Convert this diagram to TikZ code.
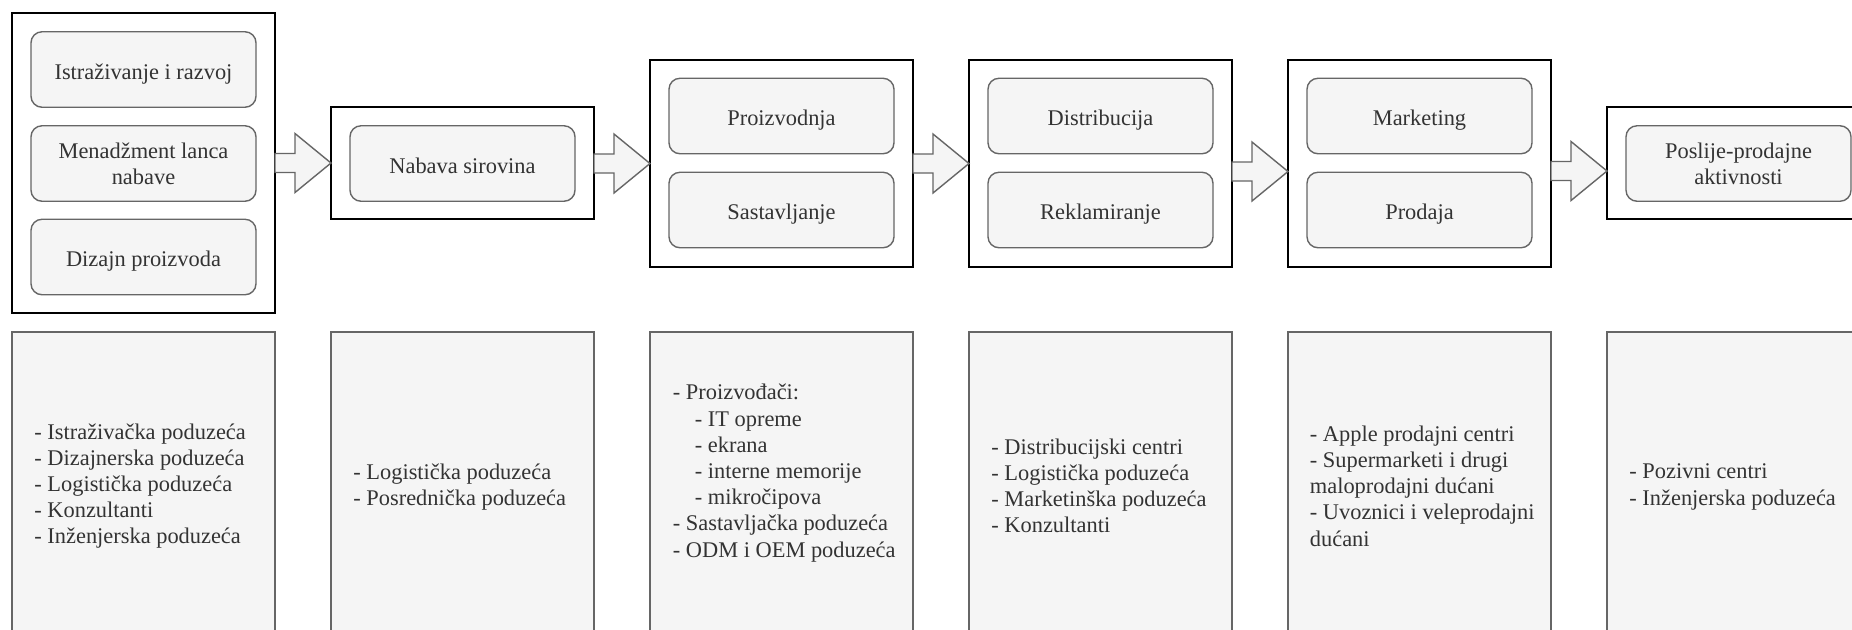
\documentclass[tikz,border=0pt]{standalone}
\usepackage{fontspec}
\setmainfont{Liberation Serif}
\usetikzlibrary{calc}
\definecolor{boxfill}{HTML}{F5F5F5}
\definecolor{boxline}{HTML}{666666}
\definecolor{txt}{HTML}{333333}
\newcommand{\dfont}{\fontsize{11.2pt}{13.1pt}\selectfont}
\newcommand{\barr}[3]{%
  \path (#1.east) ++(0,#3) coordinate (s) (#2.west) ++(0,#3) coordinate (t);
  \draw[barrow] ($(s |- t)+(0,-9.5)$) -- ($(t)+(-36,-9.5)$) -- ($(t)+(-36,-29.5)$) -- (t)
    -- ($(t)+(-36,29.5)$) -- ($(t)+(-36,9.5)$) -- ($(s |- t)+(0,9.5)$) -- cycle;}
\tikzset{
  grp/.style={draw=black, line width=1pt, fill=white, inner sep=0pt, outer sep=0pt, minimum width=131.5pt},
  item/.style={draw=boxline, line width=0.7pt, fill=boxfill, rounded corners=5.5pt,
    minimum width=112.5pt, minimum height=37.75pt, inner sep=0pt, outer sep=0pt,
    text=txt, align=center, font=\dfont},
  one/.style={text height=9.6pt, text depth=0pt},
  actor/.style={draw=boxline, line width=0.7pt, fill=boxfill, minimum width=131.5pt,
    minimum height=152pt, inner sep=0pt, outer sep=0pt},
  lst/.style={anchor=west, align=left, text=txt, font=\dfont, inner sep=0pt},
  barrow/.style={draw=boxline, line width=0.7pt, fill=boxfill, line join=miter},
}
\begin{document}
\begin{tikzpicture}[x=0.5pt, y=-0.5pt]
\useasboundingbox (0,0) rectangle (1852,629);
\clip (0,0) rectangle (1852,629);
\fill[white] (0,0) rectangle (1852,629);
% group boxes
\node[grp, minimum height=150pt] (g1) at (143.5,163) {};
\node[grp, minimum height=56pt] (g2) at (462.5,163) {};
\node[grp, minimum height=103.5pt] (g3) at (781.5,163.5) {};
\node[grp, minimum height=103.5pt] (g4) at (1100.5,163.5) {};
\node[grp, minimum height=103.5pt] (g5) at (1419.5,163.5) {};
\node[grp, minimum height=56pt] (g6) at (1738.5,163) {};
% items
\node[item, one] (a1) at (143.5,69.5) {Istraživanje i razvoj};
\node[item] (a2) at (143.5,163.5) {Menadžment lanca\\nabave};
\node[item, one] (a3) at (143.5,257) {Dizajn proizvoda};
\node[item, one] (b1) at (462.5,163.5) {Nabava sirovina};
\node[item, one] (c1) at (781.5,116) {Proizvodnja};
\node[item, one] (c2) at (781.5,210) {Sastavljanje};
\node[item, one] (d1) at (1100.5,116) {Distribucija};
\node[item, one] (d2) at (1100.5,210) {Reklamiranje};
\node[item, one] (e1) at (1419.5,116) {Marketing};
\node[item, one] (e2) at (1419.5,210) {Prodaja};
\node[item] (f1) at (1738.5,163.5) {Poslije-prodajne\\aktivnosti};
% block arrows
\barr{g1}{g2}{0}
\barr{g2}{g3}{0}
\barr{g3}{g4}{0}
\barr{g4}{g5}{8}
\barr{g5}{g6}{8}
% bottom boxes
\node[actor] (p1) at (143.5,484) {};
\node[actor] (p2) at (462.5,484) {};
\node[actor] (p3) at (781.5,484) {};
\node[actor] (p4) at (1100.5,484) {};
\node[actor] (p5) at (1419.5,484) {};
\node[actor] (p6) at (1738.5,484) {};
\node[lst] (t1) at (34,486) {- Istraživačka poduzeća\\- Dizajnerska poduzeća\\- Logistička poduzeća\\- Konzultanti\\- Inženjerska poduzeća};
\node[lst] (t2) at (353,487) {- Logistička poduzeća\\- Posrednička poduzeća};
\node[lst] (t3) at (672.5,473) {- Proizvođači:\\\hspace*{11pt}- IT opreme\\\hspace*{11pt}- ekrana\\\hspace*{11pt}- interne memorije\\\hspace*{11pt}- mikročipova\\- Sastavljačka poduzeća\\- ODM i OEM poduzeća};
\node[lst] (t4) at (991,486) {- Distribucijski centri\\- Logistička poduzeća\\- Marketinška poduzeća\\- Konzultanti};
\node[lst] (t5) at (1309.5,486) {- Apple prodajni centri\\- Supermarketi i drugi\\maloprodajni dućani\\- Uvoznici i veleprodajni\\dućani};
\node[lst] (t6) at (1629,487) {- Pozivni centri\\- Inženjerska poduzeća};
\end{tikzpicture}
\end{document}
